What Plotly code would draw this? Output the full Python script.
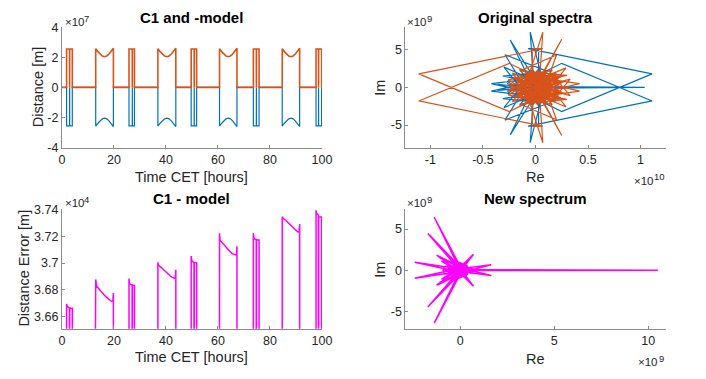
import plotly.graph_objects as go

W, H = 706, 379
FONT = "Liberation Sans, Arial, Helvetica, sans-serif"
TXT = "#262626"
AX = "#8c8c8c"
BLUE = "#0072BD"
ORANGE = "#D95319"
MAGENTA = "#FF00FF"

# ---------------- pass timeline: time [h] and range in units of 1e7 m ----------------
pass_t = [
    0.0, 1.8, 1.8, 2.95, 2.97, 3.0, 4.0, 4.0,
    13.0, 13.0, 13.85, 14.7, 15.55, 16.4, 17.25, 18.1, 18.95, 19.8, 19.8,
    25.8, 25.8, 27.05, 27.07, 27.1, 27.9, 27.9,
    36.9, 36.9, 37.76, 38.63, 39.49, 40.35, 41.21, 42.08, 42.94, 43.8, 43.8,
    49.7, 49.7, 50.85, 50.87, 50.9, 51.8, 51.8,
    60.6, 60.6, 61.44, 62.28, 63.11, 63.95, 64.79, 65.63, 66.46, 67.3, 67.3,
    73.6, 73.6, 74.75, 74.77, 74.8, 75.8, 75.8,
    84.7, 84.7, 85.54, 86.38, 87.21, 88.05, 88.89, 89.73, 90.56, 91.4, 91.4,
    97.7, 97.7, 98.65, 98.67, 98.7, 99.85, 99.85, 100.0,
]
c1_v = [
    0, 0, 2.55, 2.55, 0, 2.55, 2.55, 0,
    0, 2.57, 2.38, 2.22, 2.09, 2.04, 2.09, 2.22, 2.38, 2.60, 0,
    0, 2.55, 2.55, 0, 2.55, 2.55, 0,
    0, 2.57, 2.38, 2.22, 2.09, 2.04, 2.09, 2.22, 2.38, 2.60, 0,
    0, 2.55, 2.55, 0, 2.55, 2.55, 0,
    0, 2.57, 2.38, 2.22, 2.09, 2.04, 2.09, 2.22, 2.38, 2.60, 0,
    0, 2.55, 2.55, 0, 2.55, 2.55, 0,
    0, 2.57, 2.38, 2.22, 2.09, 2.04, 2.09, 2.22, 2.38, 2.60, 0,
    0, 2.55, 2.55, 0, 2.55, 2.55, 0, 0,
]
model_v = [
    0, 0, 2.55, 2.55, 0, 2.55, 2.55, 0,
    0, 2.57, 2.38, 2.22, 2.09, 2.04, 2.09, 2.22, 2.38, 2.60, 0,
    0, 2.55, 2.55, 0, 2.55, 2.55, 0,
    0, 2.57, 2.38, 2.22, 2.09, 2.04, 2.09, 2.22, 2.38, 2.60, 0,
    0, 2.55, 2.55, 0, 2.55, 2.55, 0,
    0, 2.57, 2.38, 2.22, 2.09, 2.04, 2.09, 2.22, 2.38, 2.60, 0,
    0, 2.55, 2.55, 0, 2.55, 2.55, 0,
    0, 2.57, 2.38, 2.22, 2.09, 2.04, 2.09, 2.22, 2.38, 2.60, 0,
    0, 2.55, 2.55, 0, 2.55, 2.55, 0, 0,
]

# ---------------- C1 - model difference: time [h], error [m] ----------------
err_t = [
    1.8, 1.8, 2.0, 2.4, 2.9, 2.95, 3.0, 3.4, 3.7, 4.0, 4.0,
    13.0, 13.0, 13.3, 14.0, 15.0, 16.0, 17.0, 18.0, 18.9, 19.6, 19.8, 19.8,
    25.8, 25.8, 26.0, 26.5, 27.0, 27.05, 27.1, 27.5, 27.9, 27.9,
    36.9, 36.9, 37.1, 38.0, 39.0, 40.0, 41.0, 42.0, 43.0, 43.6, 43.8, 43.8,
    49.7, 49.7, 49.9, 50.4, 50.8, 50.85, 50.9, 51.3, 51.8, 51.8,
    60.6, 60.6, 60.8, 61.5, 62.5, 63.5, 64.5, 65.5, 66.4, 67.1, 67.3, 67.3,
    73.6, 73.6, 73.8, 74.3, 74.7, 74.75, 74.8, 75.3, 75.8, 75.8,
    84.7, 84.7, 85.0, 86.0, 87.0, 88.0, 89.0, 90.0, 90.6, 91.2, 91.4, 91.4,
    97.7, 97.7, 97.9, 98.3, 98.6, 98.65, 98.7, 99.2, 99.8, 99.85,
]
err_v = [
    0, 36695, 36680, 36672, 36666, 0, 36668, 36662, 36664, 36663, 0,
    0, 36878, 36830, 36812, 36790, 36768, 36748, 36728, 36718, 36716, 36778, 0,
    0, 36885, 36848, 36840, 36838, 0, 36836, 36834, 36833, 0,
    0, 37005, 36985, 36970, 36952, 36934, 36916, 36898, 36888, 36886, 36950, 0,
    0, 37052, 37018, 37008, 37004, 0, 37004, 37002, 37002, 0,
    0, 37222, 37170, 37155, 37130, 37108, 37088, 37070, 37060, 37058, 37125, 0,
    0, 37222, 37185, 37176, 37172, 0, 37175, 37172, 37172, 0,
    0, 37345, 37333, 37318, 37298, 37278, 37258, 37238, 37232, 37230, 37290, 0,
    0, 37392, 37368, 37362, 37355, 0, 37345, 37342, 37342, 0,
]

# ---------------- spectra: first half of each FFT (Re in 1e10, Im in 1e9) ----------------
c1_spec_re = [
    0.03, 0.15, -0.12, 0.07, 0.04, 0.25, 0.08, -0.18, -0.03, -0.03,
    0.07, -1.11, -0.25, 0.18, 0.42, 0.12, 0.30, -0.15, 0.20, 0.05,
    -0.21, 0.27, -0.10, 0.16, -0.26, 0.10, -0.05, 0.22, -0.17, 0.29,
    0.02, -0.22, 0.14, -0.08, 0.24, -0.14, 0.06, 0.19, -0.24, 0.11,
    -0.02, 0.28, -0.19, 0.09, -0.11, 0.21, 0.00, -0.16, 0.13, 0.33,
    0.05, -0.27, 0.17, -0.06, 0.25, -0.13, 0.08, 0.01,
]
c1_spec_im = [
    0.3, 1.6, -0.9, 7.35, 1.2, 6.4, 2.0, 0.5, 2.2, 5.15,
    5.15, 1.8, -3.2, -0.3, 0.5, 1.1, 1.6, 2.2, 4.3, -1.5,
    1.3, 0.8, -2.1, 2.3, 1.0, -1.9, 2.4, -1.2, -0.2, 2.6,
    -2.3, 1.9, 0.4, 1.5, 1.4, -1.6, 0.9, -2.0, 0.2, 2.1,
    -0.6, -0.8, 1.2, -1.3, 2.3, 0.6, 1.7, -1.0, -2.2, 1.1,
    0.0, -0.5, 1.9, -1.7, -1.5, 0.7, -0.4, 0.1,
]
model_spec_re = [
    1.04, 0.05, -0.14, 0.10, -0.05, -0.02, -0.24, -0.09, 0.15, 0.03,
    0.03, -0.07, 1.11, 0.25, -0.17, -0.42, -0.12, -0.31, 0.12, -0.29,
    -0.04, 0.18, -0.27, 0.08, -0.15, 0.22, -0.10, 0.04, -0.21, 0.16,
    -0.30, -0.02, 0.20, -0.13, 0.07, -0.23, 0.12, -0.06, -0.36, 0.00,
]
model_spec_im = [
    0.0, 0.1, 1.7, -0.8, 7.35, 1.4, 6.3, 2.0, 0.4, 2.3,
    5.15, 5.15, 1.8, -3.2, -0.3, 0.5, 1.0, 1.5, 2.1, 4.35,
    -1.4, 1.2, 0.8, -2.0, 2.4, 0.9, -1.8, 2.5, -1.1, -0.1,
    2.7, -2.2, 1.8, 0.3, 1.5, 1.3, -1.5, 0.8, -0.4, 0.05,
]

# difference spectrum, first half (Re and Im in 1e9)
diff_spec_re = [
    10.52, 0.10, -1.38, 0.05, -1.72, -0.05, -1.62, 0.12, -2.42, -0.08,
    -1.25, 0.02, 0.71, -0.05, 1.65, 0.10, -1.10, -0.20, -0.85, -0.90,
    -0.55, -0.15, -1.00, 0.15, -0.30, 0.30, 0.55, 0.72, 0.62, 0.20,
    -0.25, 0.35, -0.40, 0.25, -0.10, 0.40, -0.35, 0.00, 0.30, -0.20,
    0.05,
]
diff_spec_im = [
    0.0, 0.05, 6.44, -0.2, 4.48, 0.3, 4.25, 0.1, 0.97, -0.2,
    1.83, 0.4, 1.95, -0.3, 0.66, 0.2, 1.5, 0.55, 0.45, 0.05,
    -0.25, 0.25, 1.1, -0.45, 0.9, -0.7, 0.35, 0.1, -0.25, 0.6,
    -0.6, 0.9, 0.3, -0.2, 1.0, 0.5, -0.3, 0.8, 0.15, -0.1,
    0.05,
]


def with_conjugate(re_half, im_half):
    """Spectrum of a real signal: second half is the mirrored conjugate."""
    re = list(re_half) + list(re_half[::-1])
    im = list(im_half) + [-v for v in im_half[::-1]]
    return re, im


fig = go.Figure()

# top-left: C1 and -model
fig.add_trace(go.Scatter(x=pass_t, y=[-v for v in model_v], mode="lines",
                         line=dict(color=BLUE, width=1.2), xaxis="x", yaxis="y"))
fig.add_trace(go.Scatter(x=pass_t, y=c1_v, mode="lines",
                         line=dict(color=ORANGE, width=1.6), xaxis="x", yaxis="y"))

# top-right: original spectra
mre, mim = with_conjugate(model_spec_re, model_spec_im)
cre, cim = with_conjugate(c1_spec_re, c1_spec_im)
fig.add_trace(go.Scatter(x=mre, y=mim, mode="lines",
                         line=dict(color=BLUE, width=1.2), xaxis="x2", yaxis="y2"))
fig.add_trace(go.Scatter(x=cre, y=cim, mode="lines",
                         line=dict(color=ORANGE, width=1.2), xaxis="x2", yaxis="y2"))

# bottom-left: C1 - model
fig.add_trace(go.Scatter(x=err_t, y=[v / 1e4 for v in err_v], mode="lines",
                         line=dict(color=MAGENTA, width=1.5), xaxis="x3", yaxis="y3"))

# bottom-right: new spectrum
dre, dim = with_conjugate(diff_spec_re, diff_spec_im)
fig.add_trace(go.Scatter(x=dre, y=dim, mode="lines",
                         line=dict(color=MAGENTA, width=1.5), xaxis="x4", yaxis="y4"))


def axis(domain, rng, vals, texts, anchor):
    return dict(domain=domain, range=rng, anchor=anchor, tickvals=vals, ticktext=texts,
                showline=True, linecolor=AX, linewidth=1, ticks="inside", ticklen=3,
                tickcolor=AX, tickwidth=1, showgrid=False, zeroline=False,
                tickfont=dict(family=FONT, size=12.5, color=TXT), fixedrange=True)


XL = [60 / W, 325 / W]
XR = [410 / W, 675 / W]
YT = [1 - 146 / H, 1 - 21 / H]
YB = [1 - 334 / H, 1 - 210 / H]

fig.update_layout(
    width=W, height=H, margin=dict(l=0, r=0, t=0, b=0),
    paper_bgcolor="white", plot_bgcolor="white", showlegend=False,
    xaxis=axis(XL, [0, 100], [0, 20, 40, 60, 80, 100], ["0", "20", "40", "60", "80", "100"], "y"),
    yaxis=axis(YT, [-4, 4], [-4, -2, 0, 2, 4], ["-4", "-2", "0", "2", "4"], "x"),
    xaxis2=axis(XR, [-1.237, 1.238], [-1, -0.5, 0, 0.5, 1], ["-1", "-0.5", "0", "0.5", "1"], "y2"),
    yaxis2=axis(YT, [-8, 8], [-5, 0, 5], ["-5", "0", "5"], "x2"),
    xaxis3=axis(XL, [0, 100], [0, 20, 40, 60, 80, 100], ["0", "20", "40", "60", "80", "100"], "y3"),
    yaxis3=axis(YB, [3.6512, 3.74], [3.66, 3.68, 3.70, 3.72, 3.74],
                ["3.66", "3.68", "3.7", "3.72", "3.74"], "x3"),
    xaxis4=axis(XR, [-2.91, 10.92], [0, 5, 10], ["0", "5", "10"], "y4"),
    yaxis4=axis(YB, [-7.12, 7.42], [-5, 0, 5], ["-5", "0", "5"], "x4"),
)


def label(x_px, y_px, text, size=14.5, bold=False, xanchor="center", yanchor="middle", angle=0):
    fig.add_annotation(
        x=x_px / W, y=1 - y_px / H, xref="paper", yref="paper", showarrow=False,
        text=f"<b>{text}</b>" if bold else text, textangle=angle,
        xanchor=xanchor, yanchor=yanchor,
        font=dict(family=FONT, size=size, color="#000000" if bold else TXT),
    )


def exponent(x_px, y_px, power, anchor="left"):
    """MATLAB-style axis multiplier: '×10' followed by a raised power."""
    if anchor == "left":
        label(x_px, y_px, "×10", size=11.5, xanchor="left")
        label(x_px + 19.5, y_px - 3.5, power, size=9.5, xanchor="left")
    else:
        label(x_px, y_px - 4.5, power, size=9.5, xanchor="right")
        label(x_px - 5.4 * len(power), y_px, "×10", size=11.5, xanchor="right")


# titles
label(192.5, 11, "C1 and -model", size=15, bold=True)
label(542, 11, "Original spectra", size=15, bold=True)
label(192.5, 199, "C1 - model", size=15, bold=True)
label(542, 199, "New spectrum", size=15, bold=True)

# axis labels
label(192.5, 177, "Time CET [hours]")
label(36, 83, "Distance [m]", angle=-90)
label(542, 177, "Re")
label(384, 84, "Im", angle=-90)
label(192.5, 363, "Time CET [hours]")
label(21, 271, "Distance Error [m]", angle=-90)
label(542, 365, "Re")
label(384, 273, "Im", angle=-90)

# axis multipliers
exponent(61, 15.5, "7")
exponent(410, 15.5, "9")
exponent(676, 181, "10", anchor="right")
exponent(61, 203, "4")
exponent(410, 203, "9")
exponent(675, 369, "9", anchor="right")

fig.write_html("out.html")
